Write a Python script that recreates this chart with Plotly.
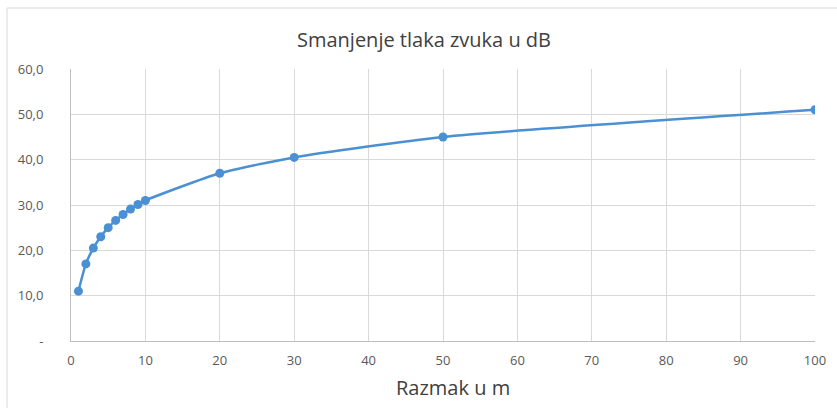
import plotly.graph_objects as go

distance_m = [1, 2, 3, 4, 5, 6, 7, 8, 9, 10, 20, 30, 50, 100]
reduction_db = [11.0, 17.0, 20.5, 23.0, 25.0, 26.6, 27.9, 29.1, 30.1, 31.0, 37.0, 40.5, 45.0, 51.0]

y_tickvals = [0, 10, 20, 30, 40, 50, 60]
y_ticktext = ["-", "10,0", "20,0", "30,0", "40,0", "50,0", "60,0"]
x_tickvals = [0, 10, 20, 30, 40, 50, 60, 70, 80, 90, 100]

title_text = "Smanjenje tlaka zvuka u dB"
x_title = "Razmak u m"

blue = "#4a90d2"
grid = "#d9d9d9"
tick_font = dict(family="Open Sans, Liberation Sans, sans-serif", size=13, color="#595959")
head_font = dict(family="Open Sans, Lato, sans-serif", size=20, color="#404040")

fig = go.Figure()
fig.add_trace(go.Scatter(
    x=distance_m, y=reduction_db, mode="lines+markers",
    line=dict(color=blue, width=2.5, shape="spline", smoothing=0.6),
    marker=dict(color=blue, size=9),
    showlegend=False,
))

W, H = 837, 408
L, R, T, B = 71, 22, 69, 67
pw, ph = W - L - R, H - T - B

fig.update_layout(
    width=W, height=H,
    margin=dict(l=L, r=R, t=T, b=B),
    paper_bgcolor="white", plot_bgcolor="white",
    title=dict(text=title_text, x=424 / W, xref="container", xanchor="center",
               y=1 - 40 / H, yanchor="middle", yref="container",
               font=head_font),
    xaxis=dict(range=[0, 100], tickvals=x_tickvals, showgrid=True, gridcolor=grid, gridwidth=1,
               showline=True, linecolor="#bfbfbf", linewidth=1, zeroline=False,
               ticks="", tickfont=tick_font, ticklabelstandoff=7),
    yaxis=dict(range=[0, 60], tickvals=y_tickvals, ticktext=y_ticktext, showgrid=True,
               gridcolor=grid, gridwidth=1, showline=True, linecolor="#bfbfbf", linewidth=1,
               zeroline=False, ticks="", tickfont=tick_font, ticklabelstandoff=24),
    annotations=[dict(text=x_title, xref="paper", yref="paper",
                      x=(453 - L) / pw, y=-(387 - (H - B)) / ph,
                      xanchor="center", yanchor="middle", showarrow=False, font=head_font)],
    shapes=[dict(type="rect", xref="paper", yref="paper",
                 x0=(7 - L) / pw, x1=(W + 10 - L) / pw,
                 y0=-(B + 10) / ph, y1=(H - 8 - B) / ph,
                 line=dict(color="#d9d9d9", width=1), fillcolor="rgba(0,0,0,0)", layer="below")],
)

fig.write_html("out.html", config={"displayModeBar": False},
               post_script="document.body.style.margin='0px';document.body.style.overflow='hidden';")
